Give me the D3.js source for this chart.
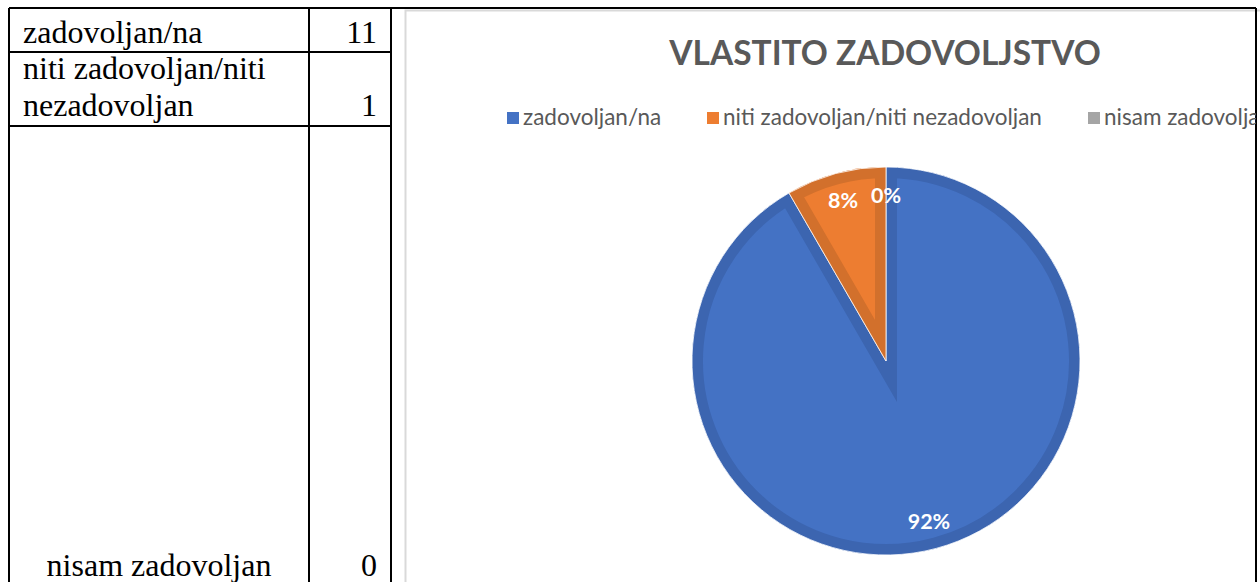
<!DOCTYPE html>
<html>
<head>
<meta charset="utf-8">
<script src="https://cdn.jsdelivr.net/npm/d3@7"></script>
<style>
  body { margin: 0; background: #fff; }
  svg { display: block; }
</style>
</head>
<body>
<div id="chart"></div>
<script>
// table rows (left side) and pie data (right side)
var rowLabels = [['zadovoljan/na'], ['niti zadovoljan/niti', 'nezadovoljan'], ['nisam zadovoljan']];
var rowValues = [11, 1, 0];
var categories = ['zadovoljan/na', 'niti zadovoljan/niti nezadovoljan', 'nisam zadovoljan'];
var counts = [11, 1, 0];
var fills = ['#4472C4', '#ED7D31', '#A5A5A5'];
var edges = ['#3C65B0', '#D2702C', '#939393'];
var title = 'VLASTITO ZADOVOLJSTVO';

var W = 1260, H = 582;
var svg = d3.select('#chart').append('svg')
  .attr('width', W)
  .attr('height', H);

// ---- word-style table on the left ----
var tbl = { x0: 9, x1: 309, x2: 391, rows: [8, 52, 126, 600] };
var serif = '"Liberation Serif", "Times New Roman", serif';

var lines = [
  [tbl.x0, tbl.rows[0], 1256, tbl.rows[0]],   // top, runs to outer frame
  [1256, tbl.rows[0], 1256, H],               // outer right
  [tbl.x0, tbl.rows[0], tbl.x0, H],
  [tbl.x1, tbl.rows[0], tbl.x1, H],
  [tbl.x2, tbl.rows[0], tbl.x2, H],
  [tbl.x0, tbl.rows[1], tbl.x2, tbl.rows[1]],
  [tbl.x0, tbl.rows[2], tbl.x2, tbl.rows[2]]
];

// chart area frame (light grey) drawn first so black lines sit on top
svg.append('rect')
  .attr('x', 405.5).attr('y', 10.5)
  .attr('width', 900).attr('height', 700)
  .attr('fill', '#fff')
  .attr('stroke', '#D9D9D9')
  .attr('stroke-width', 2);

svg.selectAll('.tline')
  .data(lines)
  .enter()
  .append('line')
    .attr('class', 'tline')
    .attr('x1', function(d){ return d[0]; })
    .attr('y1', function(d){ return d[1]; })
    .attr('x2', function(d){ return d[2]; })
    .attr('y2', function(d){ return d[3]; })
    .attr('stroke', '#000')
    .attr('stroke-width', 2);

var baselines = [[43], [79, 116], [576]];
rowLabels.forEach(function(lbl, i){
  lbl.forEach(function(t, j){
    var centered = (i == 2);
    svg.append('text')
      .attr('x', centered ? (tbl.x0 + tbl.x1) / 2 : 23)
      .attr('y', baselines[i][j])
      .attr('text-anchor', centered ? 'middle' : 'start')
      .style('font-family', serif)
      .style('font-size', '32px')
      .attr('fill', '#000')
      .text(t);
  });
  var bl = baselines[i];
  svg.append('text')
    .attr('x', 377)
    .attr('y', bl[bl.length - 1])
    .attr('text-anchor', 'end')
    .style('font-family', serif)
    .style('font-size', '32px')
    .attr('fill', '#000')
    .text(rowValues[i]);
});

// ---- chart ----
var sans = 'Lato, "Open Sans", sans-serif';

svg.append('text')
  .attr('x', 885)
  .attr('y', 65)
  .attr('text-anchor', 'middle')
  .style('font-family', sans)
  .style('font-weight', 'bold')
  .style('font-size', '33.5px')
  .attr('fill', '#595959')
  .text(title);

// legend (the last entry runs past the page frame, as in the original)
svg.append('clipPath').attr('id', 'legClip')
  .append('rect').attr('x', 406).attr('y', 90).attr('width', 850).attr('height', 60);

var legX = [507, 707, 1088];
var leg = svg.append('g').attr('clip-path', 'url(#legClip)')
  .selectAll('.leg')
  .data(categories)
  .enter()
  .append('g')
    .attr('class', 'leg')
    .attr('transform', function(d, i){ return 'translate(' + legX[i] + ',0)'; });

leg.append('rect')
  .attr('x', 0).attr('y', 112)
  .attr('width', 12).attr('height', 12)
  .attr('fill', function(d, i){ return fills[i]; });

leg.append('text')
  .attr('x', 16)
  .attr('y', 125)
  .style('font-family', sans)
  .style('font-size', '22.5px')
  .attr('fill', '#595959')
  .text(function(d){ return d; });

// pie
var cx = 886, cy = 361, r = 194;
var pie = d3.pie().sort(null).value(function(d){ return d; });
var arcs = pie(counts);
var total = d3.sum(counts);
var arc = d3.arc().innerRadius(0).outerRadius(r);
var labelArc = d3.arc().innerRadius(166).outerRadius(166);

var g = svg.append('g').attr('transform', 'translate(' + cx + ',' + cy + ')');

var slices = g.selectAll('.slice')
  .data(arcs.filter(function(d){ return d.value > 0; }))
  .enter()
  .append('g')
    .attr('class', 'slice');

slices.append('clipPath')
  .attr('id', function(d){ return 'clip' + d.index; })
  .append('path')
    .attr('d', arc);

slices.append('path')
  .attr('d', arc)
  .attr('fill', function(d){ return fills[d.index]; });

// inner border band, like the excel slice outline
slices.append('path')
  .attr('d', arc)
  .attr('fill', 'none')
  .attr('stroke', function(d){ return edges[d.index]; })
  .attr('stroke-width', 22)
  .attr('stroke-linejoin', 'miter')
  .attr('stroke-miterlimit', 10)
  .attr('clip-path', function(d){ return 'url(#clip' + d.index + ')'; });

slices.append('path')
  .attr('d', arc)
  .attr('fill', 'none')
  .attr('stroke', '#fff')
  .attr('stroke-width', 0.8);

g.selectAll('.lbl')
  .data(arcs)
  .enter()
  .append('text')
    .attr('class', 'lbl')
    .attr('transform', function(d){ return 'translate(' + labelArc.centroid(d) + ')'; })
    .attr('text-anchor', 'middle')
    .attr('dy', '0.35em')
    .style('font-family', sans)
    .style('font-weight', 'bold')
    .style('font-size', '21.5px')
    .attr('fill', '#fff')
    .text(function(d){ return Math.round(d.value / total * 100) + '%'; });
</script>
</body>
</html>
